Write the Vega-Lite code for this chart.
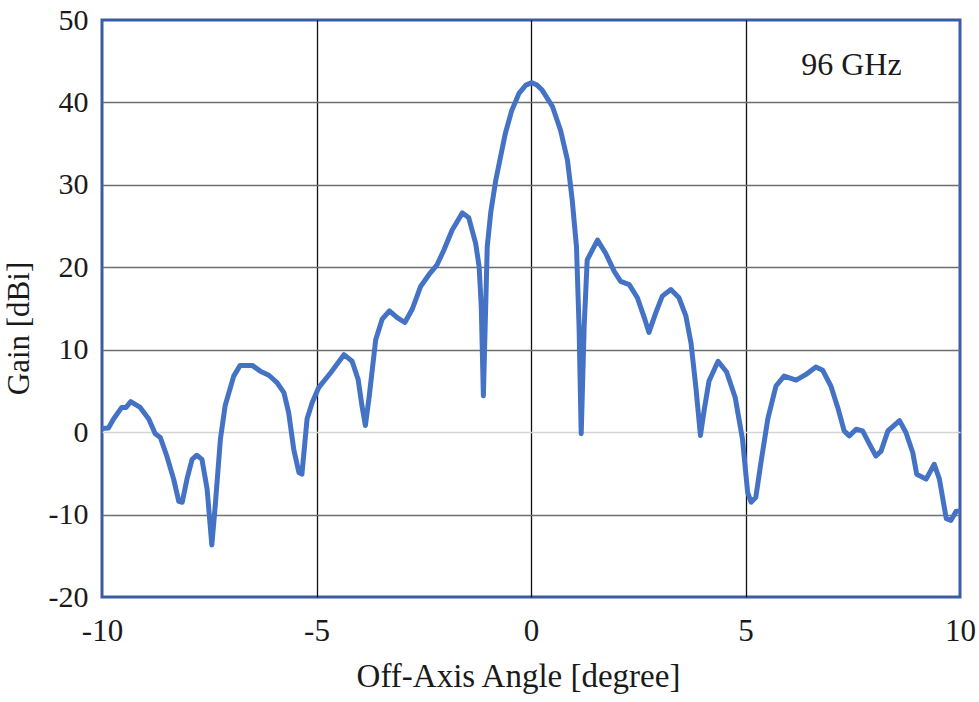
{
  "$schema": "https://vega.github.io/schema/vega-lite/v6.json",
  "width": 858,
  "height": 577,
  "autosize": {"type": "none"},
  "padding": {"left": 102, "top": 20, "right": 19, "bottom": 105},
  "background": "white",
  "config": {
    "font": "Liberation Serif",
    "view": {"stroke": "#3A5BA5", "strokeWidth": 3}
  },
  "datasets": {
    "pattern": [
      {"angle": -10.0, "gain": 0.45}, {"angle": -9.85, "gain": 0.5}, {"angle": -9.73, "gain": 1.6},
      {"angle": -9.54, "gain": 3.0}, {"angle": -9.44, "gain": 3.0}, {"angle": -9.33, "gain": 3.7},
      {"angle": -9.11, "gain": 3.0}, {"angle": -8.91, "gain": 1.6}, {"angle": -8.76, "gain": -0.2},
      {"angle": -8.64, "gain": -0.65}, {"angle": -8.49, "gain": -2.9}, {"angle": -8.33, "gain": -5.7},
      {"angle": -8.21, "gain": -8.4}, {"angle": -8.13, "gain": -8.5}, {"angle": -8.02, "gain": -5.7},
      {"angle": -7.9, "gain": -3.3}, {"angle": -7.79, "gain": -2.8}, {"angle": -7.67, "gain": -3.3},
      {"angle": -7.55, "gain": -6.9}, {"angle": -7.44, "gain": -13.7}, {"angle": -7.36, "gain": -8.9},
      {"angle": -7.24, "gain": -0.85}, {"angle": -7.13, "gain": 3.2}, {"angle": -6.93, "gain": 6.8},
      {"angle": -6.78, "gain": 8.1}, {"angle": -6.5, "gain": 8.1}, {"angle": -6.31, "gain": 7.4},
      {"angle": -6.11, "gain": 6.9}, {"angle": -5.92, "gain": 6.0}, {"angle": -5.76, "gain": 4.8},
      {"angle": -5.65, "gain": 2.4}, {"angle": -5.53, "gain": -2.1}, {"angle": -5.41, "gain": -4.9},
      {"angle": -5.34, "gain": -5.1}, {"angle": -5.22, "gain": 1.6}, {"angle": -5.1, "gain": 3.6},
      {"angle": -4.95, "gain": 5.4}, {"angle": -4.67, "gain": 7.2}, {"angle": -4.36, "gain": 9.4},
      {"angle": -4.17, "gain": 8.6}, {"angle": -4.03, "gain": 6.4}, {"angle": -3.94, "gain": 3.2},
      {"angle": -3.86, "gain": 0.8}, {"angle": -3.77, "gain": 4.4}, {"angle": -3.62, "gain": 11.2},
      {"angle": -3.47, "gain": 13.7}, {"angle": -3.3, "gain": 14.7}, {"angle": -3.12, "gain": 13.9},
      {"angle": -2.94, "gain": 13.3}, {"angle": -2.77, "gain": 14.9}, {"angle": -2.57, "gain": 17.7},
      {"angle": -2.38, "gain": 19.1}, {"angle": -2.19, "gain": 20.3}, {"angle": -2.03, "gain": 22.1},
      {"angle": -1.84, "gain": 24.5}, {"angle": -1.6, "gain": 26.6}, {"angle": -1.45, "gain": 26.0},
      {"angle": -1.29, "gain": 22.9}, {"angle": -1.21, "gain": 20.1}, {"angle": -1.16, "gain": 15.3},
      {"angle": -1.11, "gain": 4.4}, {"angle": -1.06, "gain": 14.5}, {"angle": -1.02, "gain": 22.5},
      {"angle": -0.94, "gain": 26.6}, {"angle": -0.82, "gain": 30.6}, {"angle": -0.6, "gain": 36.2},
      {"angle": -0.45, "gain": 39.0}, {"angle": -0.28, "gain": 41.1}, {"angle": -0.12, "gain": 42.1},
      {"angle": 0.02, "gain": 42.4}, {"angle": 0.14, "gain": 42.1}, {"angle": 0.26, "gain": 41.5},
      {"angle": 0.5, "gain": 39.5}, {"angle": 0.69, "gain": 36.6}, {"angle": 0.85, "gain": 33.0},
      {"angle": 0.96, "gain": 28.2}, {"angle": 1.06, "gain": 22.5}, {"angle": 1.12, "gain": 12.9},
      {"angle": 1.17, "gain": -0.2}, {"angle": 1.24, "gain": 12.9}, {"angle": 1.31, "gain": 20.9},
      {"angle": 1.55, "gain": 23.3}, {"angle": 1.74, "gain": 21.7}, {"angle": 1.94, "gain": 19.5},
      {"angle": 2.09, "gain": 18.3}, {"angle": 2.29, "gain": 17.9}, {"angle": 2.48, "gain": 16.3},
      {"angle": 2.64, "gain": 13.9}, {"angle": 2.75, "gain": 12.1}, {"angle": 2.91, "gain": 14.5},
      {"angle": 3.06, "gain": 16.5}, {"angle": 3.26, "gain": 17.3}, {"angle": 3.45, "gain": 16.3},
      {"angle": 3.61, "gain": 14.1}, {"angle": 3.73, "gain": 10.8}, {"angle": 3.84, "gain": 5.6},
      {"angle": 3.95, "gain": -0.4}, {"angle": 4.04, "gain": 2.8}, {"angle": 4.15, "gain": 6.2},
      {"angle": 4.36, "gain": 8.6}, {"angle": 4.56, "gain": 7.3}, {"angle": 4.76, "gain": 4.2},
      {"angle": 4.93, "gain": -0.85}, {"angle": 5.05, "gain": -7.3}, {"angle": 5.13, "gain": -8.5},
      {"angle": 5.24, "gain": -7.9}, {"angle": 5.36, "gain": -3.7}, {"angle": 5.52, "gain": 1.6},
      {"angle": 5.71, "gain": 5.6}, {"angle": 5.9, "gain": 6.8}, {"angle": 6.18, "gain": 6.3},
      {"angle": 6.41, "gain": 7.0}, {"angle": 6.64, "gain": 7.9}, {"angle": 6.8, "gain": 7.5},
      {"angle": 6.99, "gain": 5.6}, {"angle": 7.15, "gain": 3.0}, {"angle": 7.3, "gain": 0.15},
      {"angle": 7.42, "gain": -0.45}, {"angle": 7.58, "gain": 0.35}, {"angle": 7.73, "gain": 0.15},
      {"angle": 7.89, "gain": -1.45}, {"angle": 8.04, "gain": -2.9}, {"angle": 8.16, "gain": -2.3},
      {"angle": 8.32, "gain": 0.15}, {"angle": 8.59, "gain": 1.4}, {"angle": 8.74, "gain": -0.05},
      {"angle": 8.9, "gain": -2.5}, {"angle": 8.99, "gain": -5.1}, {"angle": 9.21, "gain": -5.7},
      {"angle": 9.4, "gain": -3.9}, {"angle": 9.52, "gain": -5.7}, {"angle": 9.68, "gain": -10.5},
      {"angle": 9.79, "gain": -10.7}, {"angle": 9.91, "gain": -9.6}, {"angle": 9.97, "gain": -9.6}
    ],
    "notes": [
      {"angle": 7.47, "gain": 43.3, "label": "96 GHz"}
    ]
  },
  "layer": [
    {
      "data": {"name": "pattern"},
      "mark": {"type": "line", "color": "#4472C4", "strokeWidth": 5, "strokeJoin": "round", "strokeCap": "round", "clip": true},
      "encoding": {
        "x": {
          "field": "angle",
          "type": "quantitative",
          "scale": {"domain": [-10, 10], "nice": false, "zero": false},
          "axis": {
            "values": [-10, -5, 0, 5, 10],
            "labelExpr": "datum.value + ''",
            "labelFlush": false,
            "title": "Off-Axis Angle [degree]",
            "titleFont": "Liberation Serif",
            "titleFontSize": 33,
            "titleFontWeight": "normal",
            "titleColor": "#1a1a1a",
            "titleBaseline": "alphabetic",
            "titleX": 416,
            "titleY": 89,
            "labelFont": "Liberation Serif",
            "labelFontSize": 31,
            "labelColor": "#1a1a1a",
            "labelPadding": 19,
            "ticks": false,
            "domain": false,
            "grid": true,
            "gridColor": "#111111",
            "gridWidth": 1.3,
            "gridOpacity": {"condition": {"test": "abs(datum.value) === 10", "value": 0}, "value": 1}
          }
        },
        "y": {
          "field": "gain",
          "type": "quantitative",
          "scale": {"domain": [-20, 50], "nice": false, "zero": false},
          "axis": {
            "values": [-20, -10, 0, 10, 20, 30, 40, 50],
            "labelExpr": "datum.value + ''",
            "labelFlush": false,
            "title": "Gain [dBi]",
            "titleFont": "Liberation Serif",
            "titleFontSize": 31,
            "titleFontWeight": "normal",
            "titleColor": "#1a1a1a",
            "titleBaseline": "alphabetic",
            "titleX": -74,
            "titleY": 308,
            "labelFont": "Liberation Serif",
            "labelFontSize": 30,
            "labelColor": "#1a1a1a",
            "labelPadding": 14,
            "ticks": false,
            "domain": false,
            "grid": true,
            "gridColor": {"condition": {"test": "datum.value === 0", "value": "#d4d4d4"}, "value": "#6e6e6e"},
            "gridWidth": 1.6,
            "gridOpacity": {"condition": {"test": "datum.value === 50 || datum.value === -20", "value": 0}, "value": 1}
          }
        }
      }
    },
    {
      "data": {"name": "notes"},
      "mark": {"type": "text", "font": "Liberation Serif", "fontSize": 32, "color": "#1a1a1a", "align": "center", "baseline": "alphabetic"},
      "encoding": {
        "x": {"field": "angle", "type": "quantitative"},
        "y": {"field": "gain", "type": "quantitative"},
        "text": {"field": "label"}
      }
    }
  ]
}
